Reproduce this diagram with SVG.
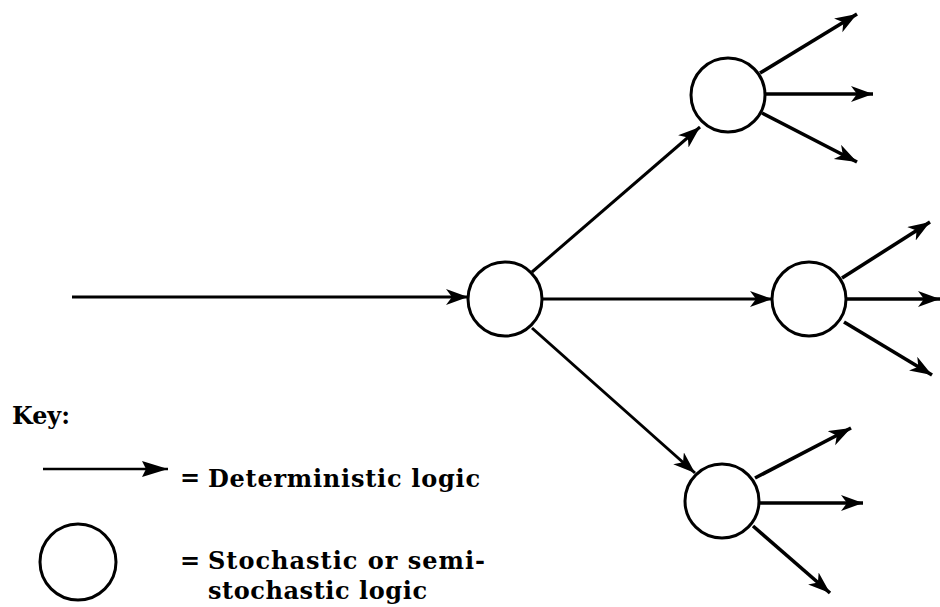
<svg xmlns="http://www.w3.org/2000/svg" width="940" height="607" viewBox="0 0 940 607">
  <style>
    .node { fill: #ffffff; stroke: #000000; stroke-width: 3; }
    .conn { stroke: #000000; stroke-width: 3; fill: none; marker-end: url(#head); }
    .conn2 { stroke: #000000; stroke-width: 3.6; fill: none; marker-end: url(#head); }
    .key { stroke: #000000; stroke-width: 2.4; fill: none; marker-end: url(#keyhead); }
    .txt { font-family: "DejaVu Serif", "Liberation Serif", serif; font-size: 24px; font-weight: bold; fill: #000000; }
  </style>
  <defs>
    <marker id="head" markerUnits="userSpaceOnUse" markerWidth="24" markerHeight="18" refX="22" refY="8" orient="auto">
      <path d="M0,0 L22,8 L0,16 L6,8 Z" fill="#000000"/>
    </marker>
    <marker id="keyhead" markerUnits="userSpaceOnUse" markerWidth="28" markerHeight="18" refX="26" refY="8" orient="auto">
      <path d="M0,0 L26,8 L0,16 L4,8 Z" fill="#000000"/>
    </marker>
  </defs>
  <rect width="940" height="607" fill="#ffffff"/>

  <g id="connectors">
    <line class="conn" x1="72" y1="297" x2="468" y2="297"/>
    <line class="conn" x1="532" y1="272" x2="700" y2="127"/>
    <line class="conn" x1="542" y1="299" x2="772" y2="299"/>
    <line class="conn" x1="532" y1="328" x2="695" y2="473"/>
    <line class="conn2" x1="760" y1="73" x2="857" y2="14"/>
    <line class="conn2" x1="765" y1="94" x2="873" y2="94"/>
    <line class="conn2" x1="762" y1="113" x2="857" y2="162"/>
    <line class="conn2" x1="842" y1="278" x2="930" y2="222"/>
    <line class="conn2" x1="846" y1="299" x2="940" y2="299"/>
    <line class="conn2" x1="844" y1="322" x2="932" y2="375"/>
    <line class="conn2" x1="755" y1="478" x2="851" y2="428"/>
    <line class="conn2" x1="759" y1="503" x2="863" y2="503"/>
    <line class="conn2" x1="753" y1="526" x2="830" y2="593"/>
  </g>

  <g id="node-center"><circle class="node" cx="505" cy="299" r="37"/></g>
  <g id="node-top"><circle class="node" cx="728" cy="95" r="37"/></g>
  <g id="node-middle"><circle class="node" cx="809" cy="299" r="37"/></g>
  <g id="node-bottom"><circle class="node" cx="722" cy="501" r="37"/></g>

  <g id="key">
    <text class="txt" x="12" y="424" textLength="58" lengthAdjust="spacingAndGlyphs">Key:</text>
    <line class="key" x1="43" y1="469" x2="168" y2="469"/>
    <text class="txt" x="180" y="486" font-size="16" font-weight="normal">=</text>
    <text class="txt" x="208" y="487" textLength="272">Deterministic logic</text>
    <circle class="node" cx="78" cy="562" r="38"/>
    <text class="txt" x="180" y="569" font-size="16" font-weight="normal">=</text>
    <text class="txt" x="208" y="569" textLength="277">Stochastic or semi-</text>
    <text class="txt" x="208" y="599" textLength="219">stochastic logic</text>
  </g>
</svg>
